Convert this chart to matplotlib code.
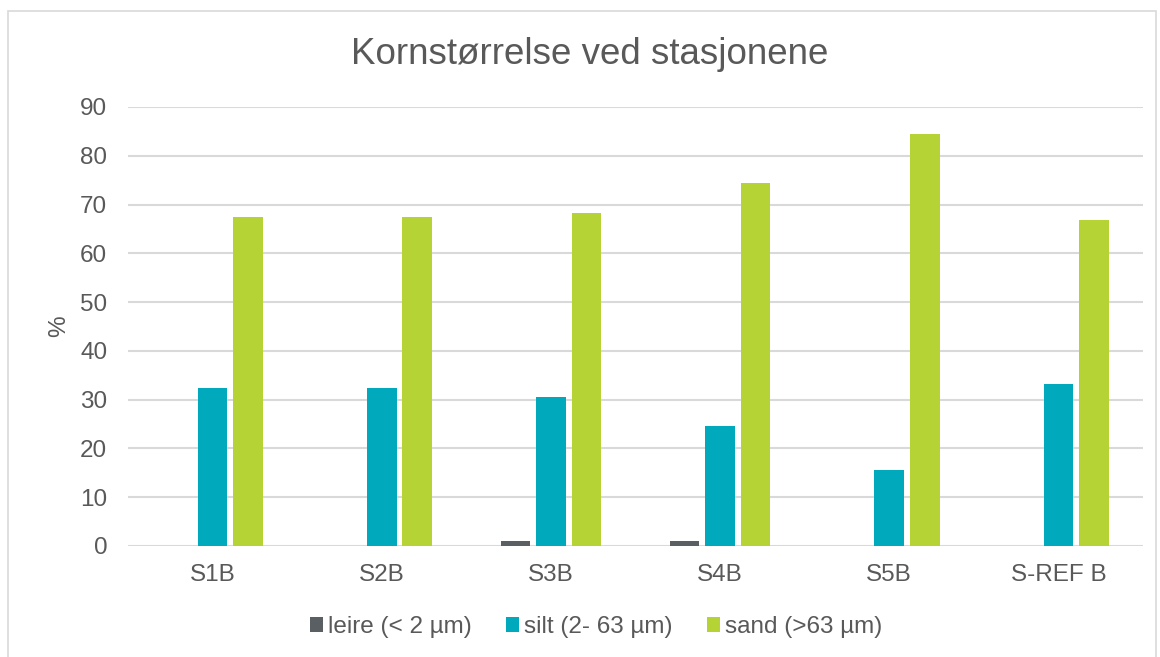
import numpy as np
import matplotlib.pyplot as plt
from matplotlib.patches import Rectangle

plt.rcParams['font.family'] = ['Liberation Sans', 'DejaVu Sans']

stations = ["S1B", "S2B", "S3B", "S4B", "S5B", "S-REF B"]
leire = [0, 0, 1.0, 1.0, 0, 0]
silt = [32.4, 32.4, 30.5, 24.6, 15.6, 33.2]
sand = [67.4, 67.4, 68.3, 74.4, 84.5, 66.8]
series_names = ["leire (< 2 µm)", "silt (2- 63 µm)", "sand (>63 µm)"]
colors = ["#5a5f64", "#00aabc", "#b5d334"]
text_color = "#595959"

fig = plt.figure(figsize=(11.6, 6.57), dpi=100)
fig.patches.append(Rectangle((8 / 1160, -0.01), 1148 / 1160, 1 - 11 / 657 + 0.01,
                             transform=fig.transFigure, fill=False,
                             edgecolor="#d9d9d9", linewidth=1.2))
ax = fig.add_axes([128 / 1160, 1 - 546 / 657, 1015 / 1160, 439 / 657])

x = np.arange(len(stations))
width = 0.175
step = 0.21
for i, (vals, name, c) in enumerate(zip([leire, silt, sand], series_names, colors)):
    ax.bar(x + (i - 1) * step, vals, width, color=c, label=name, zorder=3)

ax.set_xlim(-0.5, len(stations) - 0.5)
ax.set_ylim(0, 90)
ax.set_yticks(np.arange(0, 91, 10))
ax.set_xticks(x)
ax.set_xticklabels(stations)
ax.grid(axis="y", color="#d9d9d9", linewidth=1.5, zorder=0)
for s in ax.spines.values():
    s.set_visible(False)
ax.tick_params(length=0, colors=text_color, labelsize=17.5)
ax.tick_params(axis="y", pad=15)
ax.tick_params(axis="x", pad=13)
ax.set_ylabel("%", color=text_color, fontsize=17.5, labelpad=7)

fig.text(590 / 1160, 1 - 54 / 657, "Kornstørrelse ved stasjonene", color=text_color,
         fontsize=26.5, ha="center", va="center")

leg = fig.legend(loc="center", bbox_to_anchor=(596 / 1160, 1 - 627 / 657), ncol=3,
                 frameon=False, fontsize=17.5, handlelength=0.55, handleheight=0.55,
                 handletextpad=0.2, columnspacing=1.4)
for t in leg.get_texts():
    t.set_color(text_color)

fig.savefig("out.png", dpi=100)
